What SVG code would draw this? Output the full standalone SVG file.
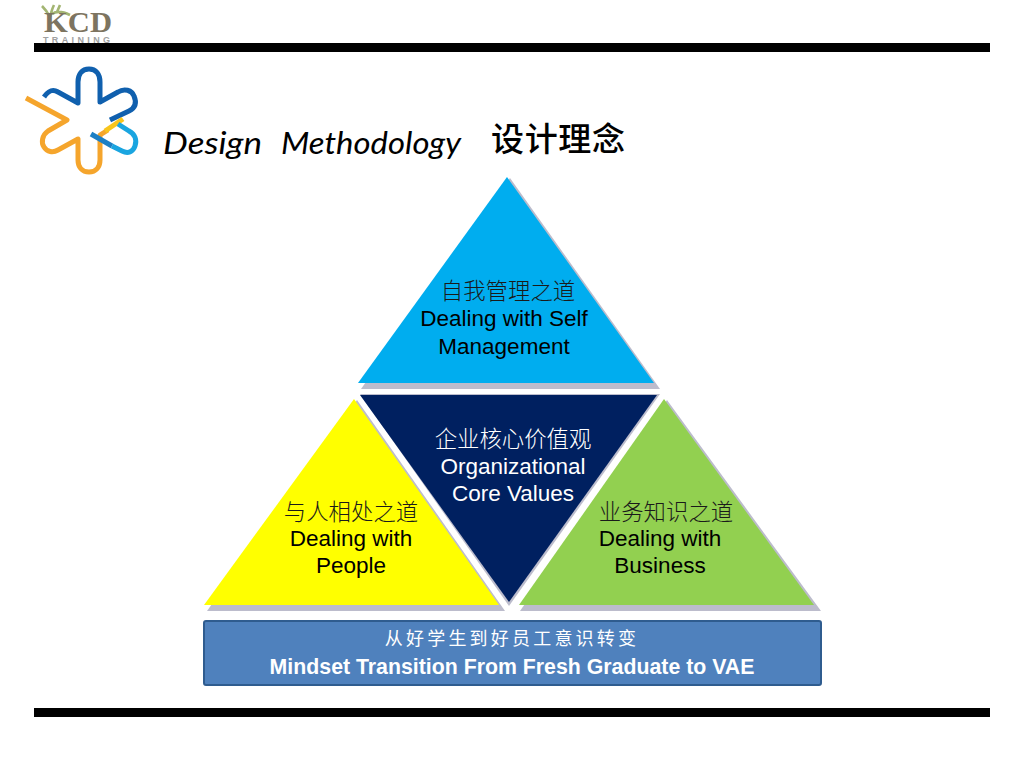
<svg xmlns="http://www.w3.org/2000/svg" width="1024" height="768" viewBox="0 0 1024 768">
<style>
.l{font-family:"Liberation Sans",Arial,sans-serif;font-size:22.5px;text-anchor:middle;fill:#000}
.c{font-family:"Noto Sans CJK SC",sans-serif;font-weight:300;font-size:22.4px;text-anchor:middle;fill:#1a1a1a}
.w{fill:#fff}
.sh{fill:#bcbccc}
.lg{fill:none;stroke-width:5;stroke-linecap:butt;stroke-linejoin:round}
</style>
<rect width="1024" height="768" fill="#fff"/>
<g id="rules">
<rect x="34" y="43" width="956" height="9" fill="#000"/>
<rect x="34" y="708" width="956" height="9" fill="#000"/>
</g>
<g id="kcd-logo">
<path d="M50 17C48 13 45 9 42 6M50 17C51 13 52 9 54 5M52 14C56 11 62 11 70 15M57 12L60 5" fill="none" stroke="#a3b572" stroke-width="2.6"/>
<text x="44" y="32" font-family="Liberation Serif,serif" font-weight="700" font-size="29" fill="#7d7460" textLength="68" lengthAdjust="spacingAndGlyphs">KCD</text>
<text x="43" y="43" font-family="Liberation Sans,sans-serif" font-size="9" font-weight="700" fill="#a0a0a0" textLength="67">TRAINING</text>
</g>
<g id="star-logo">
<path class="lg" stroke="#1060ae" d="M44 97C49 90 53 89 58 92L78 103L78 82C78 74 82 69 89 69C96 69 100 74 100 82L100 102L118 92C124 88 132 90 134 96C137 103 135 108 129 111L110 120"/>
<path class="lg" stroke="#f5a52c" d="M26 98L67 120L48 131C42 135 41 143 44 147C47 152 53 153 58 150L78 139L78 160C78 167 82 172 89 172C96 172 100 167 100 160L100 135L108 130"/>
<path class="lg" stroke="#f8c51c" d="M105 131L123 119"/>
<path class="lg" stroke="#1c7fc4" d="M91 134L112 146"/>
<path class="lg" stroke="#1aa5e0" d="M112 146L122 151C128 154 133 152 135 146C137 140 135 134 129 131L118 124"/>
</g>
<g id="title">
<text font-family="Lato,sans-serif" font-style="italic" font-size="30" fill="#000"><tspan x="163" y="154" textLength="99" lengthAdjust="spacingAndGlyphs">Design</tspan><tspan x="281" y="154" textLength="180" lengthAdjust="spacingAndGlyphs">Methodology</tspan></text>
<text x="491" y="151" font-family="Noto Sans CJK SC,sans-serif" font-size="33" font-weight="500" fill="#000" textLength="134">设计理念</text>
</g>
<g id="top-triangle">
<polygon class="sh" points="510,178 660,389 361,389"/>
<polygon points="507,177 654,383 358,383" fill="#00adef"/>
<text class="c" x="508" y="299">自我管理之道</text>
<text class="l" x="504" y="326">Dealing with Self</text>
<text class="l" x="504" y="354">Management</text>
</g>
<g id="left-triangle">
<polygon class="sh" points="357,400 505,611 207,611"/>
<polygon points="354,399 499,605 204,605" fill="#ffff00"/>
<text class="c" x="351" y="520">与人相处之道</text>
<text class="l" x="351" y="546">Dealing with</text>
<text class="l" x="351" y="573">People</text>
</g>
<g id="right-triangle">
<polygon class="sh" points="667,400 821,611 520,611"/>
<polygon points="664,399 814,605 519,605" fill="#92d050"/>
<text class="c" x="666" y="520">业务知识之道</text>
<text class="l" x="660" y="546">Dealing with</text>
<text class="l" x="660" y="573">Business</text>
</g>
<g id="center-triangle">
<polygon points="360,394 660,394 509,606" fill="#bcbccc"/>
<polygon points="360,395 657,395 509,602" fill="#002060"/>
<text class="c w" x="513" y="447">企业核心价值观</text>
<text class="l w" x="513" y="474">Organizational</text>
<text class="l w" x="513" y="501">Core Values</text>
</g>
<g id="base-bar">
<rect x="204" y="621" width="617" height="64" rx="2" fill="#4f81bd" stroke="#2f5c8f" stroke-width="2"/>
<text class="c w" x="512" y="645" style="font-size:18px;letter-spacing:3.2px;font-weight:400">从好学生到好员工意识转变</text>
<text class="l w" x="512" y="674" style="font-weight:700;font-size:21.3px">Mindset Transition From Fresh Graduate to VAE</text>
</g>
</svg>
